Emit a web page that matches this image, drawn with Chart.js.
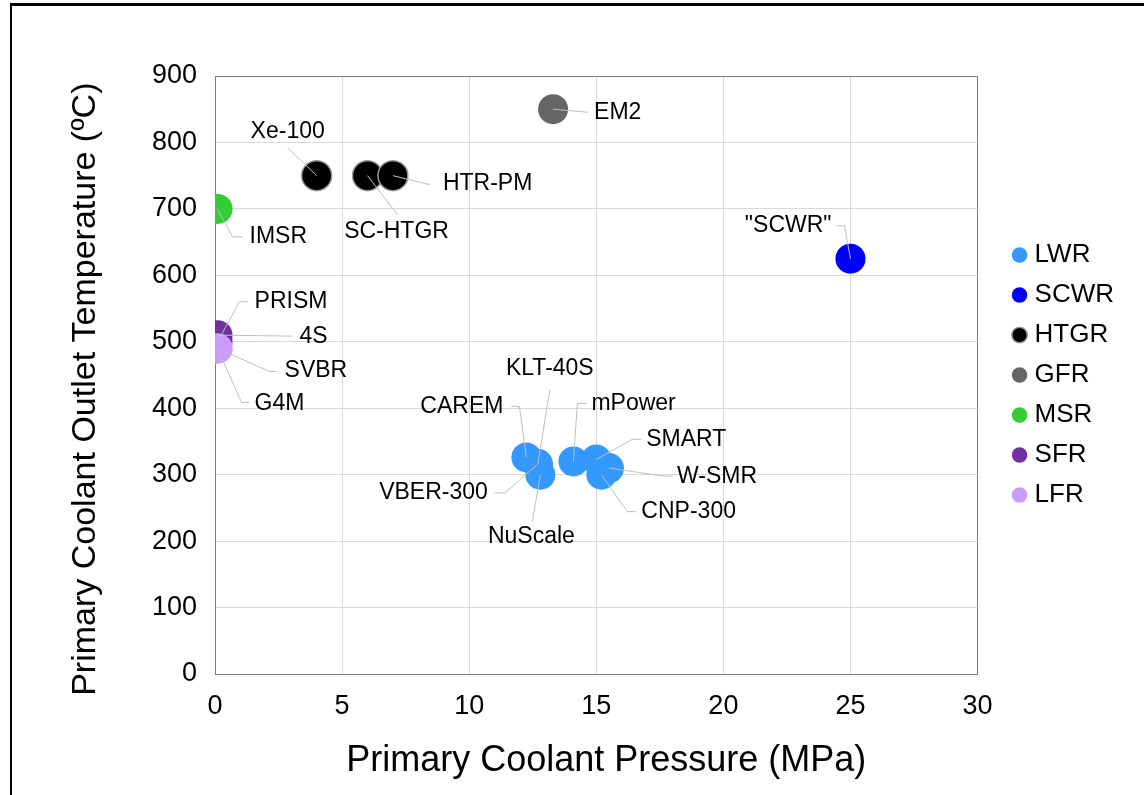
<!DOCTYPE html>
<html>
<head>
<meta charset="utf-8">
<title>Primary coolant outlet temperature vs pressure</title>
<script src="https://cdn.jsdelivr.net/npm/chart.js@4.4.1/dist/chart.umd.min.js"></script>
<style>
  html, body { margin: 0; padding: 0; background: #fff; overflow: hidden; }
  #wrap { position: relative; width: 1144px; height: 795px; }
  #frame {
    position: absolute; left: 10px; top: 3px; right: 0; bottom: 0;
    border-top: 3px solid #000; border-left: 2px solid #000;
    pointer-events: none;
  }
  canvas { position: absolute; left: 0; top: 0; }
</style>
</head>
<body>
<div id="wrap">
  <canvas id="chart" width="1144" height="795"></canvas>
  <div id="frame"></div>
</div>
<script>
// ---------------------
// DATA (pressure in MPa, outlet temperature in degC)
// ---------------------
const seriesNames = ["LWR", "SCWR", "HTGR", "GFR", "MSR", "SFR", "LFR"];

const lwrNames = ["CAREM", "KLT-40S", "VBER-300", "NuScale", "mPower", "SMART", "W-SMR", "CNP-300"];
const lwrPressure = [12.25, 12.7, 12.7, 12.8, 14.1, 15.0, 15.5, 15.2];
const lwrTemp = [326, 316, 316, 300, 320, 323, 310, 300];

const scwrNames = ['"SCWR"'];
const scwrPressure = [25];
const scwrTemp = [625];

const htgrNames = ["Xe-100", "SC-HTGR", "HTR-PM"];
const htgrPressure = [4, 6, 7];
const htgrTemp = [750, 750, 750];

const gfrNames = ["EM2"];
const gfrPressure = [13.3];
const gfrTemp = [850];

const msrNames = ["IMSR"];
const msrPressure = [0.1];
const msrTemp = [700];

const sfrNames = ["PRISM", "4S"];
const sfrPressure = [0.1, 0.1];
const sfrTemp = [500, 510];

const lfrNames = ["SVBR", "G4M"];
const lfrPressure = [0.1, 0.1];
const lfrTemp = [490, 490];

const xTicks = [0, 5, 10, 15, 20, 25, 30];
const yTicks = [0, 100, 200, 300, 400, 500, 600, 700, 800, 900];

// ---------------------
// STYLE
// ---------------------
const FONT = "'Liberation Sans', Arial, sans-serif";
const GRID = "#d9d9d9";
const FRAME = "#7a7a7a";

const namesBySeries = {
  LWR: lwrNames, SCWR: scwrNames, HTGR: htgrNames, GFR: gfrNames,
  MSR: msrNames, SFR: sfrNames, LFR: lfrNames,
};

// where each point label sits, relative to its marker (px)
const labelPlacement = {
  "CAREM":    { text: [-23, -51], align: "right",  line: [[-7, -51], [-15, -51]] },
  "KLT-40S":  { text: [12, -95],  align: "center", line: [[12, -74]] },
  "VBER-300": { text: [-50, 29],  align: "right",  line: [[-33, 29], [-43, 29]] },
  "NuScale":  { text: [-9, 62],   align: "center", line: [[-8, 47]] },
  "mPower":   { text: [18, -58],  align: "left",   line: [[4, -58], [13, -58]] },
  "SMART":    { text: [50, -20],  align: "left",   line: [[36, -20], [45, -20]] },
  "W-SMR":    { text: [68, 9],    align: "left",   line: [[54, 8], [64, 8]] },
  "CNP-300":  { text: [40, 37],   align: "left",   line: [[26, 37], [35, 37]] },
  '"SCWR"':   { text: [-19, -33], align: "right",  line: [[-6, -33], [-14, -33]] },
  "Xe-100":   { text: [-29, -44], align: "center", line: [[-29, -28]] },
  "SC-HTGR":  { text: [29, 56],   align: "center", line: [[30, 39]] },
  "HTR-PM":   { text: [50, 8],    align: "left",   line: [[37, 9]] },
  "EM2":      { text: [41, 3],    align: "left",   line: [[35, 3]] },
  "IMSR":     { text: [32, 28],   align: "left",   line: [[15, 28], [25, 28]] },
  "PRISM":    { text: [37, -40],  align: "left",   line: [[22, -40], [30, -40]] },
  "4S":       { text: [82, 2],    align: "left",   line: [[75, 1]] },
  "SVBR":     { text: [67, 22],   align: "left",   line: [[52, 23], [59, 23]] },
  "G4M":      { text: [37, 55],   align: "left",   line: [[24, 54], [32, 54]] },
};

function points(xs, ys) {
  return xs.map((x, i) => ({ x, y: ys[i] }));
}

function series(label, xs, ys, fill, extra) {
  return Object.assign({
    label,
    data: points(xs, ys),
    backgroundColor: fill,
    borderColor: fill,
    borderWidth: 0,
    pointRadius: 15,
    pointHoverRadius: 15,
  }, extra || {});
}

// ---------------------
// LABEL PLUGIN: leader line + name for each marker
// ---------------------
const pointLabels = {
  id: "pointLabels",
  afterDatasetsDraw(chart, args, opts) {
    const ctx = chart.ctx;
    ctx.save();
    ctx.font = opts.font;
    ctx.fillStyle = opts.color;
    ctx.strokeStyle = opts.lineColor;
    ctx.lineWidth = 1;
    ctx.textBaseline = "middle";
    chart.data.datasets.forEach((ds, di) => {
      const meta = chart.getDatasetMeta(di);
      const names = namesBySeries[ds.label] || [];
      names.forEach((name, i) => {
        const place = labelPlacement[name];
        const pt = meta.data[i];
        if (!place || !pt) return;
        ctx.beginPath();
        ctx.moveTo(pt.x, pt.y);
        place.line.forEach(([dx, dy]) => ctx.lineTo(pt.x + dx, pt.y + dy));
        ctx.stroke();
        ctx.textAlign = place.align;
        ctx.fillText(name, pt.x + place.text[0], pt.y + place.text[1]);
      });
    });
    ctx.restore();
  },
};

// ---------------------
// CHART
// ---------------------
const datasets = [
  series(seriesNames[0], lwrPressure, lwrTemp, "#3399ff"),
  series(seriesNames[1], scwrPressure, scwrTemp, "#0000ff"),
  series(seriesNames[2], htgrPressure, htgrTemp, "#000000", { borderColor: "#9a9a9a", borderWidth: 1.5 }),
  series(seriesNames[3], gfrPressure, gfrTemp, "#666666"),
  series(seriesNames[4], msrPressure, msrTemp, "#33cc33"),
  series(seriesNames[5], sfrPressure, sfrTemp, "#7030a0"),
  series(seriesNames[6], lfrPressure, lfrTemp, "#cc99ff", { order: -1 }),
];

new Chart(document.getElementById("chart"), {
  type: "scatter",
  data: { datasets },
  plugins: [pointLabels],
  options: {
    responsive: false,
    animation: false,
    devicePixelRatio: 1,
    layout: { padding: { top: 76, left: 0, right: 20, bottom: 0 } },
    plugins: {
      tooltip: { enabled: false },
      legend: {
        position: "right",
        align: "center",
        fullSize: false,
        labels: {
          usePointStyle: true,
          boxWidth: 4,
          boxHeight: 11,
          padding: 14,
          color: "#000",
          font: { family: FONT, size: 26 },
          sort: (a, b) => a.datasetIndex - b.datasetIndex,
        },
      },
      pointLabels: {
        font: "23px " + FONT,
        color: "#000",
        lineColor: "#bfbfbf",
      },
    },
    scales: {
      x: {
        type: "linear",
        min: xTicks[0],
        max: xTicks[xTicks.length - 1],
        afterBuildTicks: (s) => { s.ticks = xTicks.map((v) => ({ value: v })); },
        afterFit: (s) => { s.height = 121; },
        ticks: { color: "#000", padding: 16, font: { family: FONT, size: 27 } },
        grid: {
          drawTicks: false,
          color: (c) => (c.tick && c.tick.value === xTicks[xTicks.length - 1] ? FRAME : GRID),
        },
        border: { color: FRAME, width: 1 },
        title: {
          display: true,
          text: "\u00a0\u00a0Primary Coolant Pressure (MPa)",
          color: "#000",
          font: { family: FONT, size: 36 },
          padding: { top: 0, bottom: 12 },
        },
      },
      y: {
        type: "linear",
        min: yTicks[0],
        max: yTicks[yTicks.length - 1],
        afterBuildTicks: (s) => { s.ticks = yTicks.map((v) => ({ value: v })); },
        afterFit: (s) => { s.width = 215; },
        ticks: { color: "#000", padding: 18, font: { family: FONT, size: 27 } },
        grid: {
          drawTicks: false,
          color: (c) => (c.tick && c.tick.value === yTicks[yTicks.length - 1] ? FRAME : GRID),
        },
        border: { color: FRAME, width: 1 },
        title: {
          display: true,
          text: "Primary Coolant Outlet Temperature (\u00baC)\u00a0\u00a0\u00a0",
          color: "#000",
          font: { family: FONT, size: 34 },
          padding: { top: 65, bottom: 0 },
        },
      },
      // spacer between the plot frame and the legend
      gap: {
        position: "right",
        display: true,
        grid: { display: false },
        ticks: { display: false },
        border: { display: false },
        afterFit: (s) => { s.width = 26; },
      },
    },
  },
});
</script>
</body>
</html>
